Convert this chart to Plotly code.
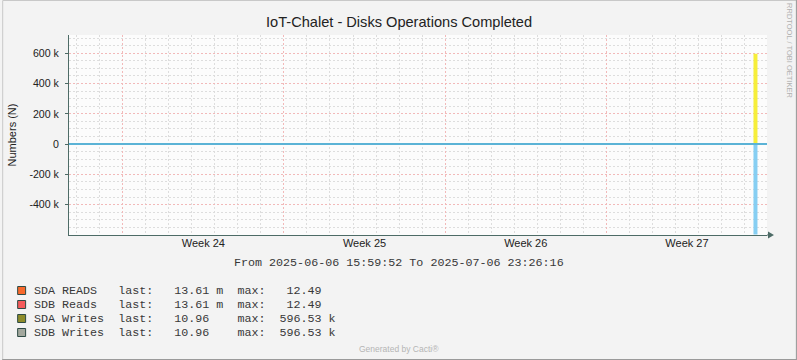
import plotly.graph_objects as go
import pandas as pd

# ---------------- data ----------------
series_names = ["SDA READS", "SDB Reads", "SDA Writes", "SDB Writes"]
legend_colors = ["#F8692C", "#F45B5B", "#8E8C2A", "#A3A89E"]
last_values = ["13.61 m", "13.61 m", "10.96", "10.96"]
max_values = ["12.49", "12.49", "596.53 k", "596.53 k"]

times = ["2025-06-06 15:59:52", "2025-07-06 09:20:00", "2025-07-06 13:30:00", "2025-07-06 23:26:16"]
reads = [0.01361, 12.49, 0.01361, 0.01361]
writes_up = [10.96, 596530, 10.96, 10.96]
writes_down = [-10.96, -596530, -10.96, -10.96]

start, end = "2025-06-06 15:59:52", "2025-07-06 23:26:16"
week_label_pos = ["2025-06-12 12:00", "2025-06-19 12:00", "2025-06-26 12:00", "2025-07-03 12:00"]
week_labels = ["Week 24", "Week 25", "Week 26", "Week 27"]
week_starts = ["2025-06-09", "2025-06-16", "2025-06-23", "2025-06-30"]
y_ticks = [-400000, -200000, 0, 200000, 400000, 600000]
y_labels = ["-400 k", "-200 k", "0", "200 k", "400 k", "600 k"]

# minor grid positions (days that are not week starts, 50k steps that are not labelled)
day_grid = [d.strftime("%Y-%m-%d") for d in pd.date_range("2025-06-07", "2025-07-06", freq="D")
            if d.strftime("%Y-%m-%d") not in week_starts]
y_minor = [v for v in range(-600000, 750000, 50000) if v not in y_ticks]

# ---------------- layout geometry ----------------
W, H = 797, 360
L, R, T, B = 67, 30, 35, 125
PW, PH = W - L - R, H - T - B


def px2x(px):
    return (px - L) / PW


def px2y(py):
    return (H - B - py) / PH


RED = "#F2B9B9"
GREY = "#DDDDDD"
AXIS = "#4D6B66"
SANS = "Liberation Sans, Arial, sans-serif"
MONO = "Liberation Mono, Courier New, monospace"

fig = go.Figure()

fig.add_trace(go.Scatter(x=times, y=writes_down, mode="lines", line=dict(width=0, shape="hv"),
                         fill="tozeroy", fillcolor="#86CEF2", showlegend=False, hoverinfo="skip"))
fig.add_trace(go.Scatter(x=times, y=writes_up, mode="lines", line=dict(width=0, shape="hv"),
                         fill="tozeroy", fillcolor="#F6EE3A", showlegend=False, hoverinfo="skip"))
fig.add_trace(go.Scatter(x=times, y=reads, mode="lines", line=dict(width=2, color="#5BB3D6", shape="hv"),
                         showlegend=False, hoverinfo="skip"))

fig.update_layout(
    width=W, height=H,
    margin=dict(l=L, r=R, t=T, b=B),
    paper_bgcolor="#F3F3F3",
    plot_bgcolor="#FCFCFC",
    showlegend=False,
    title=dict(text="IoT-Chalet - Disks Operations Completed", x=px2x(398), xref="paper",
               xanchor="center", y=1 - 22 / H, yanchor="middle",
               font=dict(family=SANS, size=14.6, color="#222222")),
    xaxis=dict(type="date", range=[start, end], tickmode="array", tickvals=week_starts,
               ticktext=["" for _ in week_starts], showgrid=True, gridcolor=RED, griddash="2px,2px",
               gridwidth=1, zeroline=False, ticks="",
               showline=True, linecolor=AXIS, linewidth=1,
               minor=dict(tickmode="array", tickvals=day_grid, showgrid=True, gridcolor=GREY,
                          griddash="2px,2px", gridwidth=1, ticks="")),
    xaxis2=dict(type="date", range=[start, end], overlaying="x", matches="x", anchor="y", side="bottom",
                tickmode="array", tickvals=week_label_pos, ticktext=week_labels, ticks="",
                tickfont=dict(family=SANS, size=11, color="#222222"),
                showgrid=False, zeroline=False, showline=False),
    yaxis=dict(range=[-600000, 720000], tickmode="array", tickvals=y_ticks, ticktext=y_labels,
               showgrid=True, gridcolor=RED, griddash="2px,2px", gridwidth=1, zeroline=False,
               ticks="outside", ticklen=3, tickcolor=AXIS, showline=True, linecolor=AXIS, linewidth=1,
               tickfont=dict(family=SANS, size=10.6, color="#222222"), ticklabelstandoff=4,
               title=dict(text="Numbers (N)", font=dict(family=SANS, size=11, color="#222222"), standoff=10),
               minor=dict(tickmode="array", tickvals=y_minor, showgrid=True, gridcolor=GREY,
                          griddash="2px,2px", gridwidth=1, ticks="")),
)

# invisible anchor so the label axis is drawn
fig.add_trace(go.Scatter(x=[start], y=[0], xaxis="x2", mode="markers", marker=dict(opacity=0),
                         showlegend=False, hoverinfo="skip"))

shapes = []
# x-axis extension and arrow
shapes.append(dict(type="line", xref="paper", yref="paper", x0=1, x1=px2x(770), y0=0, y1=0,
                   line=dict(color=AXIS, width=1)))
shapes.append(dict(type="path", xref="paper", yref="paper",
                   path=f"M {px2x(768)} {px2y(231.5)} L {px2x(774)} {px2y(235)} L {px2x(768)} {px2y(238.5)} Z",
                   fillcolor=AXIS, line=dict(color=AXIS, width=0)))
# image border
shapes.append(dict(type="rect", xref="paper", yref="paper", x0=px2x(0.5), x1=px2x(W - 0.5),
                   y0=px2y(H - 0.5), y1=px2y(0.5), line=dict(color="#C8C8C8", width=1), layer="above"))
shapes.append(dict(type="line", xref="paper", yref="paper", x0=px2x(0), x1=px2x(W),
                   y0=px2y(H - 0.5), y1=px2y(H - 0.5), line=dict(color="#9A9A9A", width=1)))
shapes.append(dict(type="line", xref="paper", yref="paper", x0=px2x(W - 0.5), x1=px2x(W - 0.5),
                   y0=px2y(0), y1=px2y(H), line=dict(color="#9A9A9A", width=1)))

annotations = []
# From/To line
annotations.append(dict(text="From 2025-06-06 15:59:52 To 2025-07-06 23:26:16".replace(" ", "\u00a0"),
                        xref="paper", yref="paper", x=px2x(398), y=px2y(263), xanchor="center",
                        yanchor="middle", showarrow=False, font=dict(family=MONO, size=11.7, color="#383838")))
# legend
for i, (name, col, last, mx) in enumerate(zip(series_names, legend_colors, last_values, max_values)):
    yc = 291 + 14 * i
    shapes.append(dict(type="rect", xref="paper", yref="paper", x0=px2x(15.5), x1=px2x(23.5),
                       y0=px2y(yc + 3.5), y1=px2y(yc - 4.5), fillcolor=col,
                       line=dict(color="#2D4A44", width=1)))
    num, _, suf = mx.partition(" ")
    line = f"{name:<12}last:   {last:<9}max:  {num:>6}" + (f" {suf}" if suf else "")
    annotations.append(dict(text=line.replace(" ", "\u00a0"), xref="paper", yref="paper",
                            x=px2x(30), y=px2y(yc), xanchor="left", yanchor="middle", showarrow=False,
                            font=dict(family=MONO, size=11.7, color="#383838")))
# watermark / footer
annotations.append(dict(text="RRDTOOL / TOBI OETIKER", xref="paper", yref="paper", x=px2x(789),
                        y=px2y(51), xanchor="center", yanchor="middle", textangle=90, showarrow=False,
                        font=dict(family=SANS, size=7.5, color="#B0B0B0")))
annotations.append(dict(text="Generated by Cacti®", xref="paper", yref="paper", x=px2x(398),
                        y=px2y(349), xanchor="center", yanchor="middle", showarrow=False,
                        font=dict(family=SANS, size=8.5, color="#B5B5B5")))

fig.update_layout(shapes=shapes, annotations=annotations)
fig.write_html("out.html", config={"displayModeBar": False},
               post_script="document.body.style.margin='0';")
